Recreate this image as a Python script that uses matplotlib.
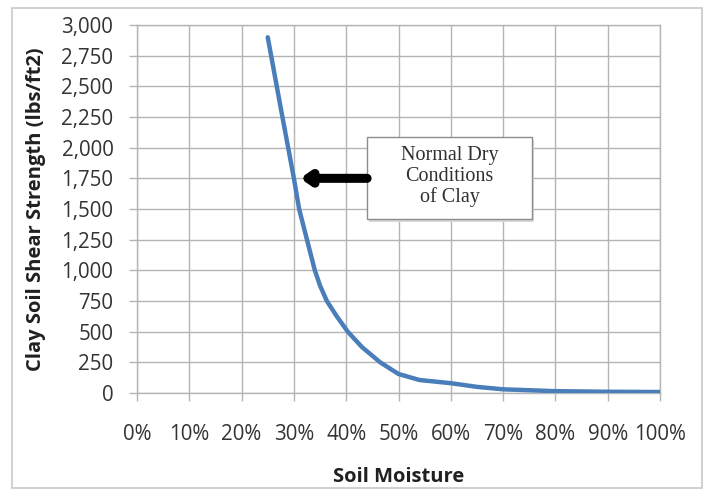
import matplotlib
matplotlib.use('Agg')
import matplotlib.pyplot as plt
from matplotlib.patches import Rectangle
from matplotlib.ticker import PercentFormatter, FuncFormatter, MultipleLocator

# soil moisture (fraction) vs clay soil shear strength (lbs/ft2)
moisture = [0.25, 0.275, 0.30, 0.31, 0.325, 0.34, 0.35, 0.363, 0.382, 0.403,
            0.43, 0.465, 0.50, 0.54, 0.60, 0.65, 0.70, 0.80, 0.90, 1.00]
strength = [2900, 2320, 1750, 1500, 1250, 1000, 875, 750, 625, 500,
            375, 250, 155, 106, 80, 50, 30, 15, 10, 8]

note_lines = ['Normal Dry', 'Conditions', 'of Clay']

grid_gray = '#b4b4b4'
line_blue = '#4a7ebb'
text_gray = '#333333'

plt.rcParams['font.family'] = ['Open Sans', 'DejaVu Sans']

fig = plt.figure(figsize=(7.09, 4.90), dpi=100)
ax = fig.add_axes([137 / 709, 1 - 393 / 490, 523 / 709, 368 / 490])

# chart border
fig.patches.append(Rectangle((12 / 709, 1 - 488 / 490), 690 / 709, 480 / 490,
                             transform=fig.transFigure, fill=False,
                             edgecolor='#c8c8c8', linewidth=1.2))

ax.plot(moisture, strength, color=line_blue, linewidth=3.2,
        solid_capstyle='round', solid_joinstyle='round', zorder=3)

ax.set_xlim(0, 1)
ax.set_ylim(0, 3000)
ax.xaxis.set_major_locator(MultipleLocator(0.1))
ax.yaxis.set_major_locator(MultipleLocator(250))
ax.xaxis.set_major_formatter(PercentFormatter(1.0, decimals=0))
ax.yaxis.set_major_formatter(FuncFormatter(lambda v, p: f'{int(v):,}'))

ax.grid(True, color=grid_gray, linewidth=1.0)
for s in ax.spines.values():
    s.set_color(grid_gray)
    s.set_linewidth(1.0)
ax.tick_params(axis='both', colors=grid_gray, length=6, width=1.0,
               labelsize=14.8, labelcolor=text_gray)
ax.tick_params(axis='x', pad=16)
ax.tick_params(axis='y', pad=11)

ax.set_xlabel('Soil Moisture', fontsize=14.5, fontweight='bold',
              color='#202020', labelpad=16)
ax.set_ylabel('Clay Soil Shear Strength (lbs/ft2)', fontsize=14.5, fontweight='bold',
              color='#202020', labelpad=11)

# note box with arrow
box_x0, box_x1 = 0.44, 0.755
box_y0, box_y1 = 1418, 2087
ax.add_patch(Rectangle((box_x0 + 0.004, box_y0 - 25), box_x1 - box_x0, box_y1 - box_y0,
                       facecolor='#d8d8d8', edgecolor='none', zorder=4))
ax.add_patch(Rectangle((box_x0, box_y0), box_x1 - box_x0, box_y1 - box_y0,
                       facecolor='white', edgecolor='#8c8c8c', linewidth=1.0, zorder=5))
ax.text((box_x0 + box_x1) / 2, (box_y0 + box_y1) / 2 + 10, '\n'.join(note_lines),
        ha='center', va='center', fontsize=14.5, family='Liberation Serif',
        color='#303030', linespacing=1.12, zorder=6)

ax.annotate('', xy=(0.312, 1750), xytext=(box_x0, 1750),
            arrowprops=dict(arrowstyle='-|>,head_length=0.5,head_width=0.35',
                            color='black', linewidth=6.5, mutation_scale=10,
                            shrinkA=0, shrinkB=0),
            zorder=6)

fig.savefig('out.png', dpi=100)
